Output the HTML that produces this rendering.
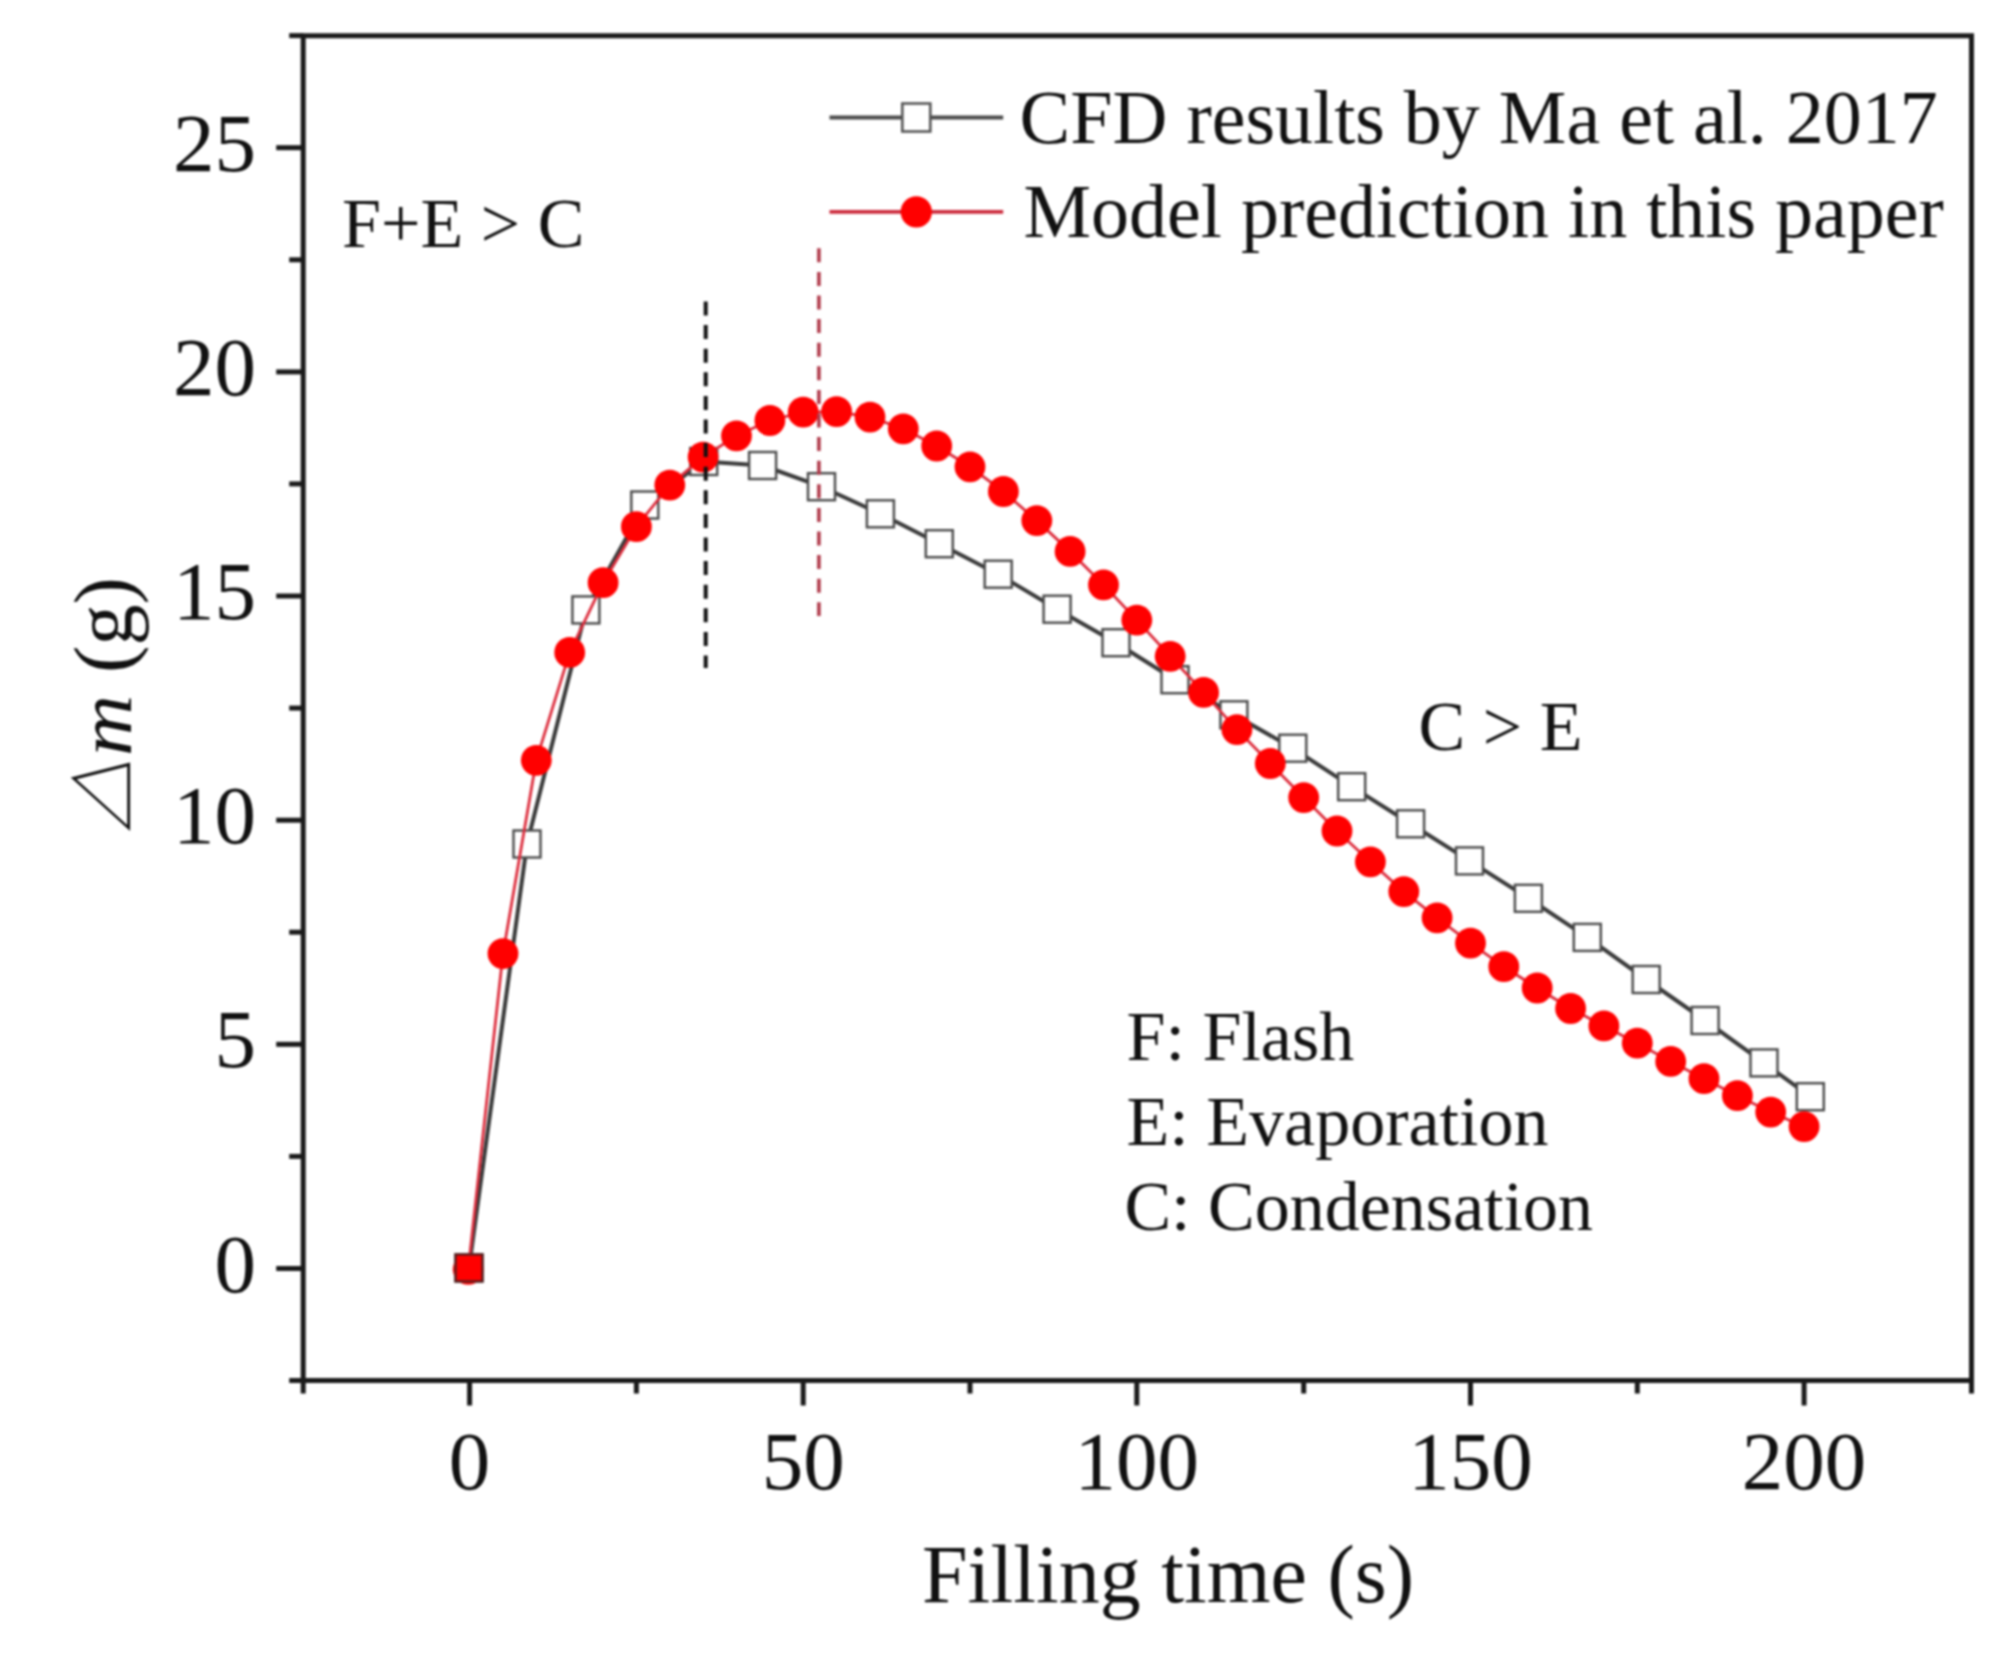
<!DOCTYPE html>
<html><head><meta charset="utf-8"><title>Filling time chart</title>
<style>html,body{margin:0;padding:0;background:#fff;width:2003px;height:1659px;overflow:hidden}svg{display:block}#w{filter:blur(1px)}</style>
</head><body><div id="w">
<svg width="2003" height="1659" viewBox="0 0 2003 1659">
<rect width="100%" height="100%" fill="#fff"/>
<polyline points="469.0,1267.9 527.0,844.0 585.9,609.9 644.8,505.0 703.7,461.5 762.6,465.5 821.5,486.7 880.4,513.8 939.3,543.7 998.2,574.2 1057.1,609.2 1116.0,642.7 1175.0,679.7 1233.9,714.8 1292.8,748.2 1351.7,786.7 1410.6,823.8 1469.5,860.9 1528.4,898.3 1587.3,937.4 1646.2,979.5 1705.1,1020.5 1764.0,1062.9 1810.3,1096.7" fill="none" stroke="#3a3a3a" stroke-width="4" stroke-linejoin="round"/>
<rect x="455.5" y="1254.4" width="27" height="27" fill="none" stroke="#4a4a4a" stroke-width="2.4"/>
<rect x="513.5" y="830.5" width="27" height="27" fill="#fff" stroke="#4a4a4a" stroke-width="2.4"/>
<rect x="572.4" y="596.4" width="27" height="27" fill="#fff" stroke="#4a4a4a" stroke-width="2.4"/>
<rect x="631.3" y="491.5" width="27" height="27" fill="#fff" stroke="#4a4a4a" stroke-width="2.4"/>
<rect x="690.2" y="448.0" width="27" height="27" fill="#fff" stroke="#4a4a4a" stroke-width="2.4"/>
<rect x="749.1" y="452.0" width="27" height="27" fill="#fff" stroke="#4a4a4a" stroke-width="2.4"/>
<rect x="808.0" y="473.2" width="27" height="27" fill="#fff" stroke="#4a4a4a" stroke-width="2.4"/>
<rect x="866.9" y="500.3" width="27" height="27" fill="#fff" stroke="#4a4a4a" stroke-width="2.4"/>
<rect x="925.8" y="530.2" width="27" height="27" fill="#fff" stroke="#4a4a4a" stroke-width="2.4"/>
<rect x="984.7" y="560.7" width="27" height="27" fill="#fff" stroke="#4a4a4a" stroke-width="2.4"/>
<rect x="1043.6" y="595.7" width="27" height="27" fill="#fff" stroke="#4a4a4a" stroke-width="2.4"/>
<rect x="1102.5" y="629.2" width="27" height="27" fill="#fff" stroke="#4a4a4a" stroke-width="2.4"/>
<rect x="1161.5" y="666.2" width="27" height="27" fill="#fff" stroke="#4a4a4a" stroke-width="2.4"/>
<rect x="1220.4" y="701.3" width="27" height="27" fill="#fff" stroke="#4a4a4a" stroke-width="2.4"/>
<rect x="1279.3" y="734.7" width="27" height="27" fill="#fff" stroke="#4a4a4a" stroke-width="2.4"/>
<rect x="1338.2" y="773.2" width="27" height="27" fill="#fff" stroke="#4a4a4a" stroke-width="2.4"/>
<rect x="1397.1" y="810.3" width="27" height="27" fill="#fff" stroke="#4a4a4a" stroke-width="2.4"/>
<rect x="1456.0" y="847.4" width="27" height="27" fill="#fff" stroke="#4a4a4a" stroke-width="2.4"/>
<rect x="1514.9" y="884.8" width="27" height="27" fill="#fff" stroke="#4a4a4a" stroke-width="2.4"/>
<rect x="1573.8" y="923.9" width="27" height="27" fill="#fff" stroke="#4a4a4a" stroke-width="2.4"/>
<rect x="1632.7" y="966.0" width="27" height="27" fill="#fff" stroke="#4a4a4a" stroke-width="2.4"/>
<rect x="1691.6" y="1007.0" width="27" height="27" fill="#fff" stroke="#4a4a4a" stroke-width="2.4"/>
<rect x="1750.5" y="1049.4" width="27" height="27" fill="#fff" stroke="#4a4a4a" stroke-width="2.4"/>
<rect x="1796.8" y="1083.2" width="27" height="27" fill="#fff" stroke="#4a4a4a" stroke-width="2.4"/>
<polyline points="468.2,1269.3 503.0,953.6 536.3,760.3 569.7,652.4 603.1,582.7 636.4,526.7 669.8,485.1 703.1,457.1 736.5,435.8 769.9,420.5 803.2,412.2 836.6,411.6 870.0,417.1 903.3,428.8 936.7,446.0 970.0,466.8 1003.4,491.5 1036.8,520.6 1070.1,551.4 1103.5,584.8 1136.8,620.1 1170.2,656.3 1203.6,692.4 1236.9,729.6 1270.3,763.5 1303.7,797.6 1337.0,831.0 1370.4,861.8 1403.8,891.6 1437.1,917.8 1470.5,943.2 1503.8,966.7 1537.2,988.0 1570.6,1008.5 1603.9,1025.9 1637.3,1043.2 1670.7,1061.4 1704.0,1078.7 1737.4,1095.7 1770.7,1112.1 1804.1,1126.6" fill="none" stroke="#dc2c3c" stroke-width="2.8" stroke-linejoin="round"/>
<circle cx="468.2" cy="1269.3" r="15.4" fill="#ff0000"/>
<circle cx="503.0" cy="953.6" r="15.4" fill="#ff0000"/>
<circle cx="536.3" cy="760.3" r="15.4" fill="#ff0000"/>
<circle cx="569.7" cy="652.4" r="15.4" fill="#ff0000"/>
<circle cx="603.1" cy="582.7" r="15.4" fill="#ff0000"/>
<circle cx="636.4" cy="526.7" r="15.4" fill="#ff0000"/>
<circle cx="669.8" cy="485.1" r="15.4" fill="#ff0000"/>
<circle cx="703.1" cy="457.1" r="15.4" fill="#ff0000"/>
<circle cx="736.5" cy="435.8" r="15.4" fill="#ff0000"/>
<circle cx="769.9" cy="420.5" r="15.4" fill="#ff0000"/>
<circle cx="803.2" cy="412.2" r="15.4" fill="#ff0000"/>
<circle cx="836.6" cy="411.6" r="15.4" fill="#ff0000"/>
<circle cx="870.0" cy="417.1" r="15.4" fill="#ff0000"/>
<circle cx="903.3" cy="428.8" r="15.4" fill="#ff0000"/>
<circle cx="936.7" cy="446.0" r="15.4" fill="#ff0000"/>
<circle cx="970.0" cy="466.8" r="15.4" fill="#ff0000"/>
<circle cx="1003.4" cy="491.5" r="15.4" fill="#ff0000"/>
<circle cx="1036.8" cy="520.6" r="15.4" fill="#ff0000"/>
<circle cx="1070.1" cy="551.4" r="15.4" fill="#ff0000"/>
<circle cx="1103.5" cy="584.8" r="15.4" fill="#ff0000"/>
<circle cx="1136.8" cy="620.1" r="15.4" fill="#ff0000"/>
<circle cx="1170.2" cy="656.3" r="15.4" fill="#ff0000"/>
<circle cx="1203.6" cy="692.4" r="15.4" fill="#ff0000"/>
<circle cx="1236.9" cy="729.6" r="15.4" fill="#ff0000"/>
<circle cx="1270.3" cy="763.5" r="15.4" fill="#ff0000"/>
<circle cx="1303.7" cy="797.6" r="15.4" fill="#ff0000"/>
<circle cx="1337.0" cy="831.0" r="15.4" fill="#ff0000"/>
<circle cx="1370.4" cy="861.8" r="15.4" fill="#ff0000"/>
<circle cx="1403.8" cy="891.6" r="15.4" fill="#ff0000"/>
<circle cx="1437.1" cy="917.8" r="15.4" fill="#ff0000"/>
<circle cx="1470.5" cy="943.2" r="15.4" fill="#ff0000"/>
<circle cx="1503.8" cy="966.7" r="15.4" fill="#ff0000"/>
<circle cx="1537.2" cy="988.0" r="15.4" fill="#ff0000"/>
<circle cx="1570.6" cy="1008.5" r="15.4" fill="#ff0000"/>
<circle cx="1603.9" cy="1025.9" r="15.4" fill="#ff0000"/>
<circle cx="1637.3" cy="1043.2" r="15.4" fill="#ff0000"/>
<circle cx="1670.7" cy="1061.4" r="15.4" fill="#ff0000"/>
<circle cx="1704.0" cy="1078.7" r="15.4" fill="#ff0000"/>
<circle cx="1737.4" cy="1095.7" r="15.4" fill="#ff0000"/>
<circle cx="1770.7" cy="1112.1" r="15.4" fill="#ff0000"/>
<circle cx="1804.1" cy="1126.6" r="15.4" fill="#ff0000"/>
<rect x="455.5" y="1254.4" width="27" height="27" fill="#f00" stroke="#5a2020" stroke-width="2.4"/>
<line x1="705.7" y1="301.5" x2="705.7" y2="668" stroke="#111" stroke-width="4" stroke-dasharray="14 9.6"/>
<line x1="818.9" y1="248.3" x2="818.9" y2="616" stroke="#b03a4a" stroke-width="3.6" stroke-dasharray="14 9.6"/>
<g stroke="#1a1a1a" stroke-width="5" fill="none" stroke-linecap="butt">
<path d="M303.2,35.625 H1971.5 V1380.525 H303.2 Z"/>
<line x1="289.2" y1="1380.5" x2="303.2" y2="1380.5"/>
<line x1="276.2" y1="1268.5" x2="303.2" y2="1268.5"/>
<line x1="289.2" y1="1156.4" x2="303.2" y2="1156.4"/>
<line x1="276.2" y1="1044.3" x2="303.2" y2="1044.3"/>
<line x1="289.2" y1="932.2" x2="303.2" y2="932.2"/>
<line x1="276.2" y1="820.2" x2="303.2" y2="820.2"/>
<line x1="289.2" y1="708.1" x2="303.2" y2="708.1"/>
<line x1="276.2" y1="596.0" x2="303.2" y2="596.0"/>
<line x1="289.2" y1="483.9" x2="303.2" y2="483.9"/>
<line x1="276.2" y1="371.9" x2="303.2" y2="371.9"/>
<line x1="289.2" y1="259.8" x2="303.2" y2="259.8"/>
<line x1="276.2" y1="147.7" x2="303.2" y2="147.7"/>
<line x1="289.2" y1="35.6" x2="303.2" y2="35.6"/>
<line x1="303.2" y1="1380.525" x2="303.2" y2="1393.525"/>
<line x1="469.6" y1="1380.525" x2="469.6" y2="1405.525"/>
<line x1="636.4" y1="1380.525" x2="636.4" y2="1393.525"/>
<line x1="803.2" y1="1380.525" x2="803.2" y2="1405.525"/>
<line x1="970.0" y1="1380.525" x2="970.0" y2="1393.525"/>
<line x1="1136.8" y1="1380.525" x2="1136.8" y2="1405.525"/>
<line x1="1303.7" y1="1380.525" x2="1303.7" y2="1393.525"/>
<line x1="1470.5" y1="1380.525" x2="1470.5" y2="1405.525"/>
<line x1="1637.3" y1="1380.525" x2="1637.3" y2="1393.525"/>
<line x1="1804.1" y1="1380.525" x2="1804.1" y2="1405.525"/>
<line x1="1971.5" y1="1380.525" x2="1971.5" y2="1393.525"/>
</g>
<g font-family="Liberation Serif, serif" font-size="83" fill="#111">
<text x="256" y="1291.5" text-anchor="end">0</text>
<text x="256" y="1067.3" text-anchor="end">5</text>
<text x="256" y="843.2" text-anchor="end">10</text>
<text x="256" y="619.0" text-anchor="end">15</text>
<text x="256" y="394.9" text-anchor="end">20</text>
<text x="256" y="170.7" text-anchor="end">25</text>
<text x="469.6" y="1488.5" text-anchor="middle">0</text>
<text x="803.2" y="1488.5" text-anchor="middle">50</text>
<text x="1136.8" y="1488.5" text-anchor="middle">100</text>
<text x="1470.5" y="1488.5" text-anchor="middle">150</text>
<text x="1804.1" y="1488.5" text-anchor="middle">200</text>
</g>
<text x="922" y="1602" font-family="Liberation Serif, serif" font-size="82" fill="#111">Filling time (s)</text>
<g fill="#111">
<text transform="translate(130.5,833.5) rotate(-90) skewX(-18)" font-family="Noto Sans CJK SC, sans-serif" font-weight="500" font-size="73">&#9651;</text>
<text transform="translate(130.5,756) rotate(-90) scale(1.1,1)" font-family="Liberation Serif, serif" font-style="italic" font-size="77">m</text>
<text transform="translate(130.5,672.9) rotate(-90)" font-family="Liberation Serif, serif" font-size="82">(g)</text>
</g>
<line x1="829.5" y1="117.5" x2="1003.2" y2="117.5" stroke="#4a4a4a" stroke-width="4"/>
<rect x="902.3" y="103.5" width="28" height="28" fill="#fff" stroke="#555" stroke-width="2.6"/>
<line x1="829.5" y1="211.9" x2="1003.2" y2="211.9" stroke="#cc2a3c" stroke-width="3.6"/>
<circle cx="916.3" cy="211.9" r="15.6" fill="#ff0000"/>
<g font-family="Liberation Serif, serif" fill="#111">
<text x="1019.6" y="143.2" font-size="76">CFD results by Ma et al. 2017</text>
<text x="1023.5" y="237.3" font-size="76">Model prediction in this paper</text>
<text x="342" y="246.6" font-size="70">F+E &gt; C</text>
<text x="1418.6" y="750.4" font-size="70">C &gt; E</text>
<text x="1126.6" y="1060.2" font-size="70">F: Flash</text>
<text x="1126.6" y="1145.4" font-size="70">E: Evaporation</text>
<text x="1124.4" y="1229.8" font-size="70">C: Condensation</text>
</g>
</svg>
</div></body></html>
